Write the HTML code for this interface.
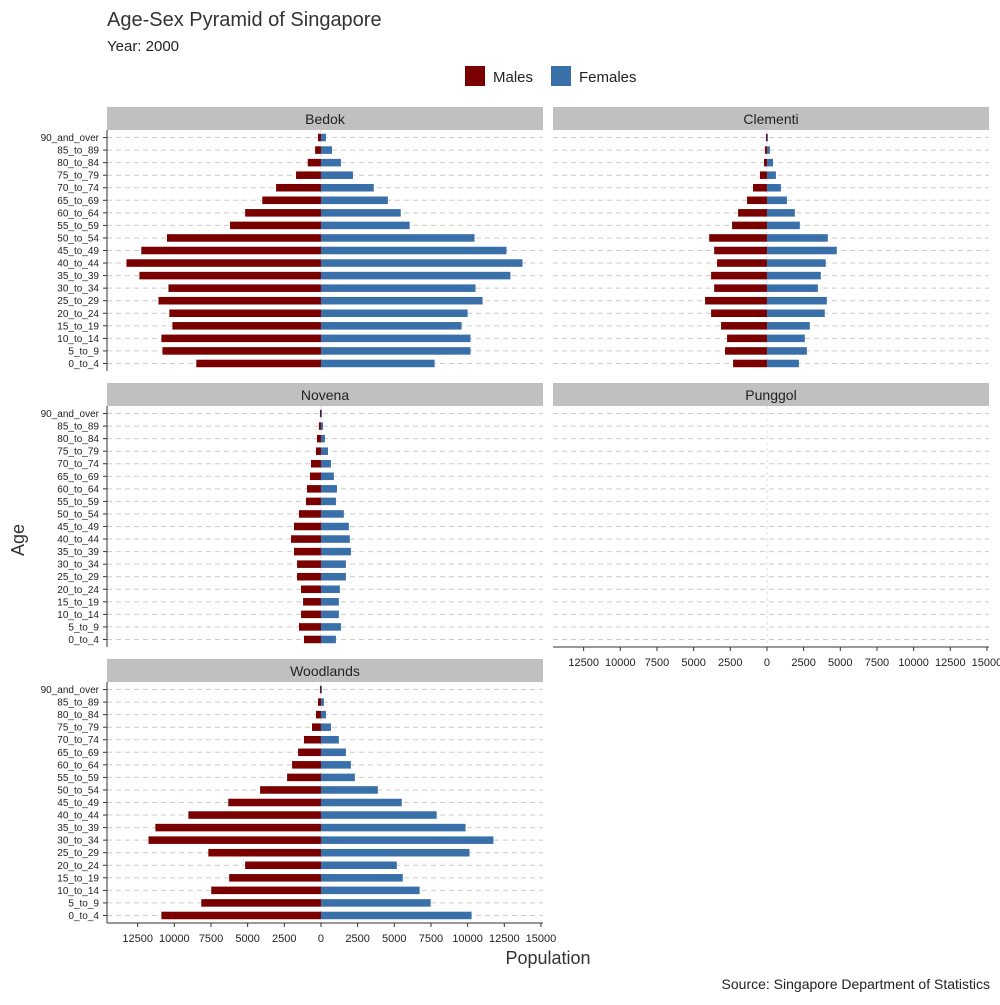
<!DOCTYPE html>
<html><head><meta charset="utf-8"><style>
body{margin:0;background:#fff;font-family:"Liberation Sans",Arial,sans-serif}
svg text{font-family:"Liberation Sans",Arial,sans-serif}
</style></head><body>
<svg id="chart" width="1000" height="1000" xmlns="http://www.w3.org/2000/svg">
<rect width="1000" height="1000" fill="#fff"/>
<text x="107" y="26" font-size="20" fill="#333">Age-Sex Pyramid of Singapore</text>
<text x="107" y="51" font-size="15" fill="#222">Year: 2000</text>
<g>
<rect x="465" y="66" width="20" height="20" fill="#7a0000"/>
<text x="493" y="82" font-size="15" fill="#222">Males</text>
<rect x="551" y="66" width="20" height="20" fill="#3a70aa"/>
<text x="579" y="82" font-size="15" fill="#222">Females</text>
</g>
<text x="548" y="964" font-size="18" fill="#333" text-anchor="middle">Population</text>
<text x="0" y="0" font-size="18" fill="#333" text-anchor="middle" transform="translate(24,540) rotate(-90)">Age</text>
<text x="990" y="989" font-size="14" fill="#222" text-anchor="end">Source: Singapore Department of Statistics</text>
</svg>
<script>
const ages=["90_and_over","85_to_89","80_to_84","75_to_79","70_to_74","65_to_69","60_to_64","55_to_59","50_to_54","45_to_49","40_to_44","35_to_39","30_to_34","25_to_29","20_to_24","15_to_19","10_to_14","5_to_9","0_to_4"];
const areas=["Bedok","Clementi","Novena","Punggol","Woodlands"];
const bedokM=[200,400,900,1700,3060,4000,5170,6200,10500,12250,13260,12380,10400,11080,10340,10130,10880,10810,8500];
const bedokF=[340,750,1360,2180,3600,4560,5440,6050,10470,12650,13740,12920,10540,11020,10000,9590,10200,10200,7750];
const clementiM=[70,140,200,480,950,1360,1970,2380,3940,3600,3400,3810,3600,4220,3810,3130,2720,2860,2310];
const clementiF=[70,200,410,610,950,1360,1900,2240,4150,4760,4010,3670,3470,4080,3940,2920,2580,2720,2180];
const novenaM=[70,140,270,340,680,750,950,1020,1500,1840,2040,1840,1630,1630,1360,1220,1360,1500,1160];
const novenaF=[70,140,270,480,680,880,1090,1020,1560,1900,1970,2040,1700,1700,1290,1220,1220,1360,1020];
const punggolM=[0,0,0,0,0,0,0,0,0,0,0,0,0,0,0,0,0,0,0];
const punggolF=[0,0,0,0,0,0,0,0,0,0,0,0,0,0,0,0,0,0,0];
const woodlandsM=[70,200,340,610,1160,1560,1970,2310,4150,6320,9040,11290,11760,7680,5170,6260,7480,8160,10880];
const woodlandsF=[70,200,340,680,1220,1700,2040,2310,3880,5510,7890,9860,11760,10130,5170,5580,6730,7480,10270];
const xTicks=[-12500,-10000,-7500,-5000,-2500,0,2500,5000,7500,10000,12500,15000];
const males=[bedokM,clementiM,novenaM,punggolM,woodlandsM];
const females=[bedokF,clementiF,novenaF,punggolF,woodlandsF];
const NS="http://www.w3.org/2000/svg";
const svg=document.getElementById('chart');
function mk(t,a,p){const e=document.createElementNS(NS,t);for(const k in a)e.setAttribute(k,a[k]);(p||svg).appendChild(e);return e;}
const dom=[-14590,15140];
const panels=[{x:107,y:107,ax:false},{x:553,y:107,ax:false},{x:107,y:383,ax:false},{x:553,y:383,ax:true},{x:107,y:659,ax:true}];
panels.forEach((p,i)=>{
  const g=mk('g',{});
  
  
  const W=436,top=p.y+23,H=241;
  const xs=v=>p.x+(v-dom[0])/(dom[1]-dom[0])*W;
  const step=H/19.2;
  const ys=j=>top+(0.6+j)*step;
  const strip=mk('rect',{x:p.x,y:p.y,width:W,height:23,fill:'#c0c0c0'},g);
  
  
  const st=mk('text',{x:p.x+W/2,y:p.y+17,'font-size':14,fill:'#222','text-anchor':'middle'},g);
  st.textContent=areas[i];
  
  
  ages.forEach((a,j)=>{
    const gl=mk('line',{x1:p.x,x2:p.x+W,y1:ys(j),y2:ys(j),stroke:'#ccc','stroke-dasharray':'5,4','stroke-width':1},g);
    
    
  });
  const vl=mk('line',{x1:xs(0),x2:xs(0),y1:top,y2:top+H,stroke:'#ddd','stroke-dasharray':'3,3'},g);
  
  
  ages.forEach((a,j)=>{
    const bh=step*0.6,m=males[i][j],f=females[i][j];
    if(m>0){const r=mk('rect',{x:xs(-m),y:ys(j)-bh/2,width:xs(0)-xs(-m),height:bh,fill:'#7a0000'},g);
    
    }
    if(f>0){const r=mk('rect',{x:xs(0),y:ys(j)-bh/2,width:xs(f)-xs(0),height:bh,fill:'#3a70aa'},g);
    
    }
    if(i%2===0){
      const t=mk('text',{x:p.x-8,y:ys(j)+3.5,'font-size':10,fill:'#222','text-anchor':'end'},g);
      t.textContent=a;
      
      
      mk('line',{x1:p.x-4,x2:p.x,y1:ys(j),y2:ys(j),stroke:'#333'},g);
    }
  });
  if(i%2===0){const yl=mk('line',{x1:p.x,x2:p.x,y1:top,y2:top+H,stroke:'#333'},g);
    
    }
  if(p.ax){
    const xl=mk('line',{x1:p.x,x2:p.x+W,y1:top+H,y2:top+H,stroke:'#333'},g);
    
    
    xTicks.forEach(v=>{
      mk('line',{x1:xs(v),x2:xs(v),y1:top+H,y2:top+H+4,stroke:'#333'},g);
      const t=mk('text',{x:xs(v),y:top+H+19,'font-size':11,fill:'#222','text-anchor':'middle'},g);
      t.textContent=Math.abs(v);
      
      
    });
  }
});
</script>
</body></html>
